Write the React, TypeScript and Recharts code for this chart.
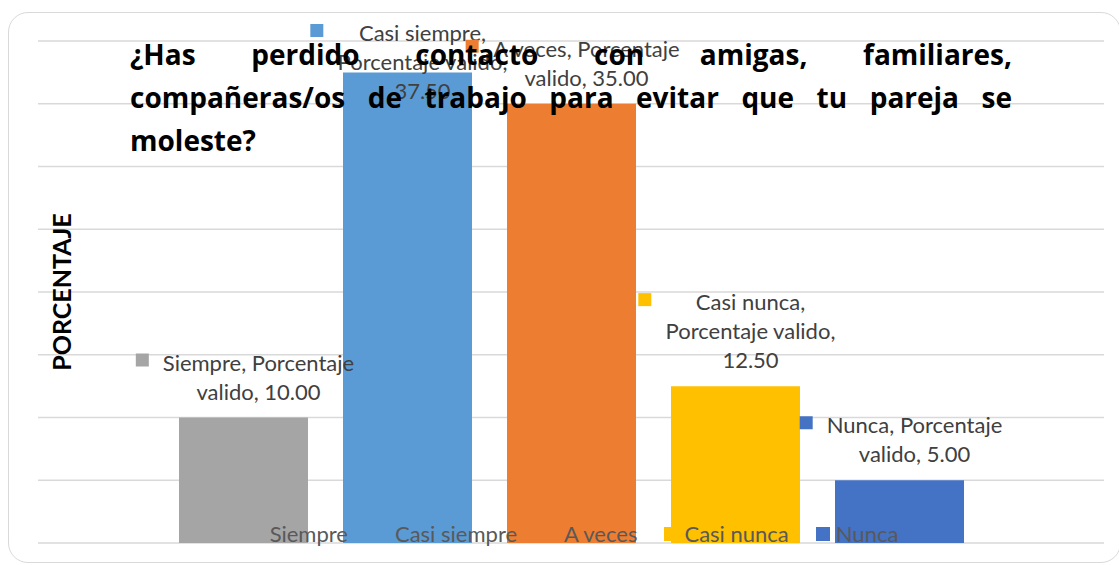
import { BarChart, Bar, XAxis, YAxis, CartesianGrid, Legend, LabelList } from 'recharts';

const categorias = ['Siempre', 'Casi siempre', 'A veces', 'Casi nunca', 'Nunca'];
const porcentajes = [10, 37.5, 35, 12.5, 5];
const colores = ['#a5a5a5', '#5b9bd5', '#ed7d31', '#ffc000', '#4472c4'];
const ticksY = [0, 5, 10, 15, 20, 25, 30, 35, 40];
const nombreSerie = 'Porcentaje valido';
const tituloLineas = [
  '¿Has perdido contacto con amigas, familiares,',
  'compañeras/os de trabajo para evitar que tu pareja se',
  'moleste?',
];
const tituloEje = 'PORCENTAJE';

// palabras por renglón en cada etiqueta de datos
const cortes = [[2, 2], [2, 2, 1], [3, 2], [2, 2, 1], [2, 2]];

const datos = [
  Object.fromEntries([['nombre', nombreSerie], ...categorias.map((c, i) => [c, porcentajes[i]])]),
];

const FUENTE = 'Lato, "Open Sans", sans-serif';
const TAM = 22;

let ctx: CanvasRenderingContext2D | null = null;
function medir(txt: string) {
  if (!ctx) ctx = document.createElement('canvas').getContext('2d');
  if (!ctx) return txt.length * TAM * 0.5;
  ctx.font = `${TAM}px ${FUENTE}`;
  return ctx.measureText(txt).width;
}

function Etiqueta(props: any) {
  const { x, y, width, value, idx } = props;
  const texto = `${categorias[idx]}, ${nombreSerie}, ${Number(value).toFixed(2)}`;
  const palabras = texto.split(' ');
  const lineas: string[] = [];
  let k = 0;
  for (const n of cortes[idx]) {
    lineas.push(palabras.slice(k, k + n).join(' '));
    k += n;
  }
  const lh = 29;
  const tx = x + width / 2 + 15;
  let primera = y - 26 - lh * (lineas.length - 1);
  if (primera < 33) primera = 33;
  const ancho = Math.max(...lineas.map(medir));
  const mx = tx - ancho / 2 - 14 - 13;
  return (
    <g>
      <rect x={mx} y={primera - 9} width={13} height={13} fill={colores[idx]} />
      <text textAnchor="middle" fill="#404040" fontSize={TAM} fontFamily={FUENTE}>
        {lineas.map((l, j) => (
          <tspan key={j} x={tx} y={primera + j * lh + 8}>{l}</tspan>
        ))}
      </text>
    </g>
  );
}

function Leyenda() {
  return (
    <div style={{ display: 'flex', justifyContent: 'center', gap: 27, fontFamily: FUENTE, fontSize: 22, color: '#595959', lineHeight: '28px' }}>
      {categorias.map((c, i) => (
        <div key={c} style={{ display: 'flex', alignItems: 'center', gap: 6 }}>
          <span style={{ width: 14, height: 14, background: colores[i], display: 'inline-block' }} />
          <span>{c}</span>
        </div>
      ))}
    </div>
  );
}

export default function App() {
  return (
    <div style={{ position: 'relative', width: 1119, height: 565, overflow: 'hidden', background: '#fff' }}>
      <style>{'body{margin:0}'}</style>
      <div style={{ position: 'absolute', left: 8, top: 12, width: 1113, height: 551, border: '1.5px solid #d9d9d9', borderRadius: 20, boxSizing: 'border-box' }} />
      <div style={{ position: 'absolute', left: 0, top: 0 }}>
        <BarChart width={1119} height={565} data={datos} margin={{ top: 41, right: 15, bottom: 22, left: 38 }} barGap={35}>
          <CartesianGrid vertical={false} stroke="#d9d9d9" strokeWidth={1.5} />
          <XAxis dataKey="nombre" hide />
          <YAxis hide domain={[0, 40]} ticks={ticksY} />
          <Legend
            layout="horizontal"
            verticalAlign="middle"
            align="center"
            content={() => <Leyenda />}
            wrapperStyle={{ left: 41, top: 520, width: 1066, bottom: 'auto' }}
          />
          {categorias.map((c, i) => (
            <Bar key={c} dataKey={c} name={c} fill={colores[i]} barSize={129} isAnimationActive={false}>
              <LabelList dataKey={c} content={(p: any) => <Etiqueta {...p} idx={i} />} />
            </Bar>
          ))}
        </BarChart>
      </div>
      <div style={{ position: 'absolute', left: 61, top: 292, transform: 'translate(-50%, -50%) rotate(-90deg)', fontFamily: FUENTE, fontWeight: 700, fontSize: 25, color: '#000', whiteSpace: 'nowrap' }}>
        {tituloEje}
      </div>
      <div style={{ position: 'absolute', left: 130, top: 33, width: 882, fontFamily: '"Open Sans", Lato, sans-serif', fontWeight: 700, fontSize: 28, lineHeight: '43px', color: '#000' }}>
        {tituloLineas.map((l, i) => (
          <div key={i} style={{ textAlign: i < tituloLineas.length - 1 ? 'justify' : 'left', textAlignLast: i < tituloLineas.length - 1 ? 'justify' : 'left' }}>{l}</div>
        ))}
      </div>
    </div>
  );
}
